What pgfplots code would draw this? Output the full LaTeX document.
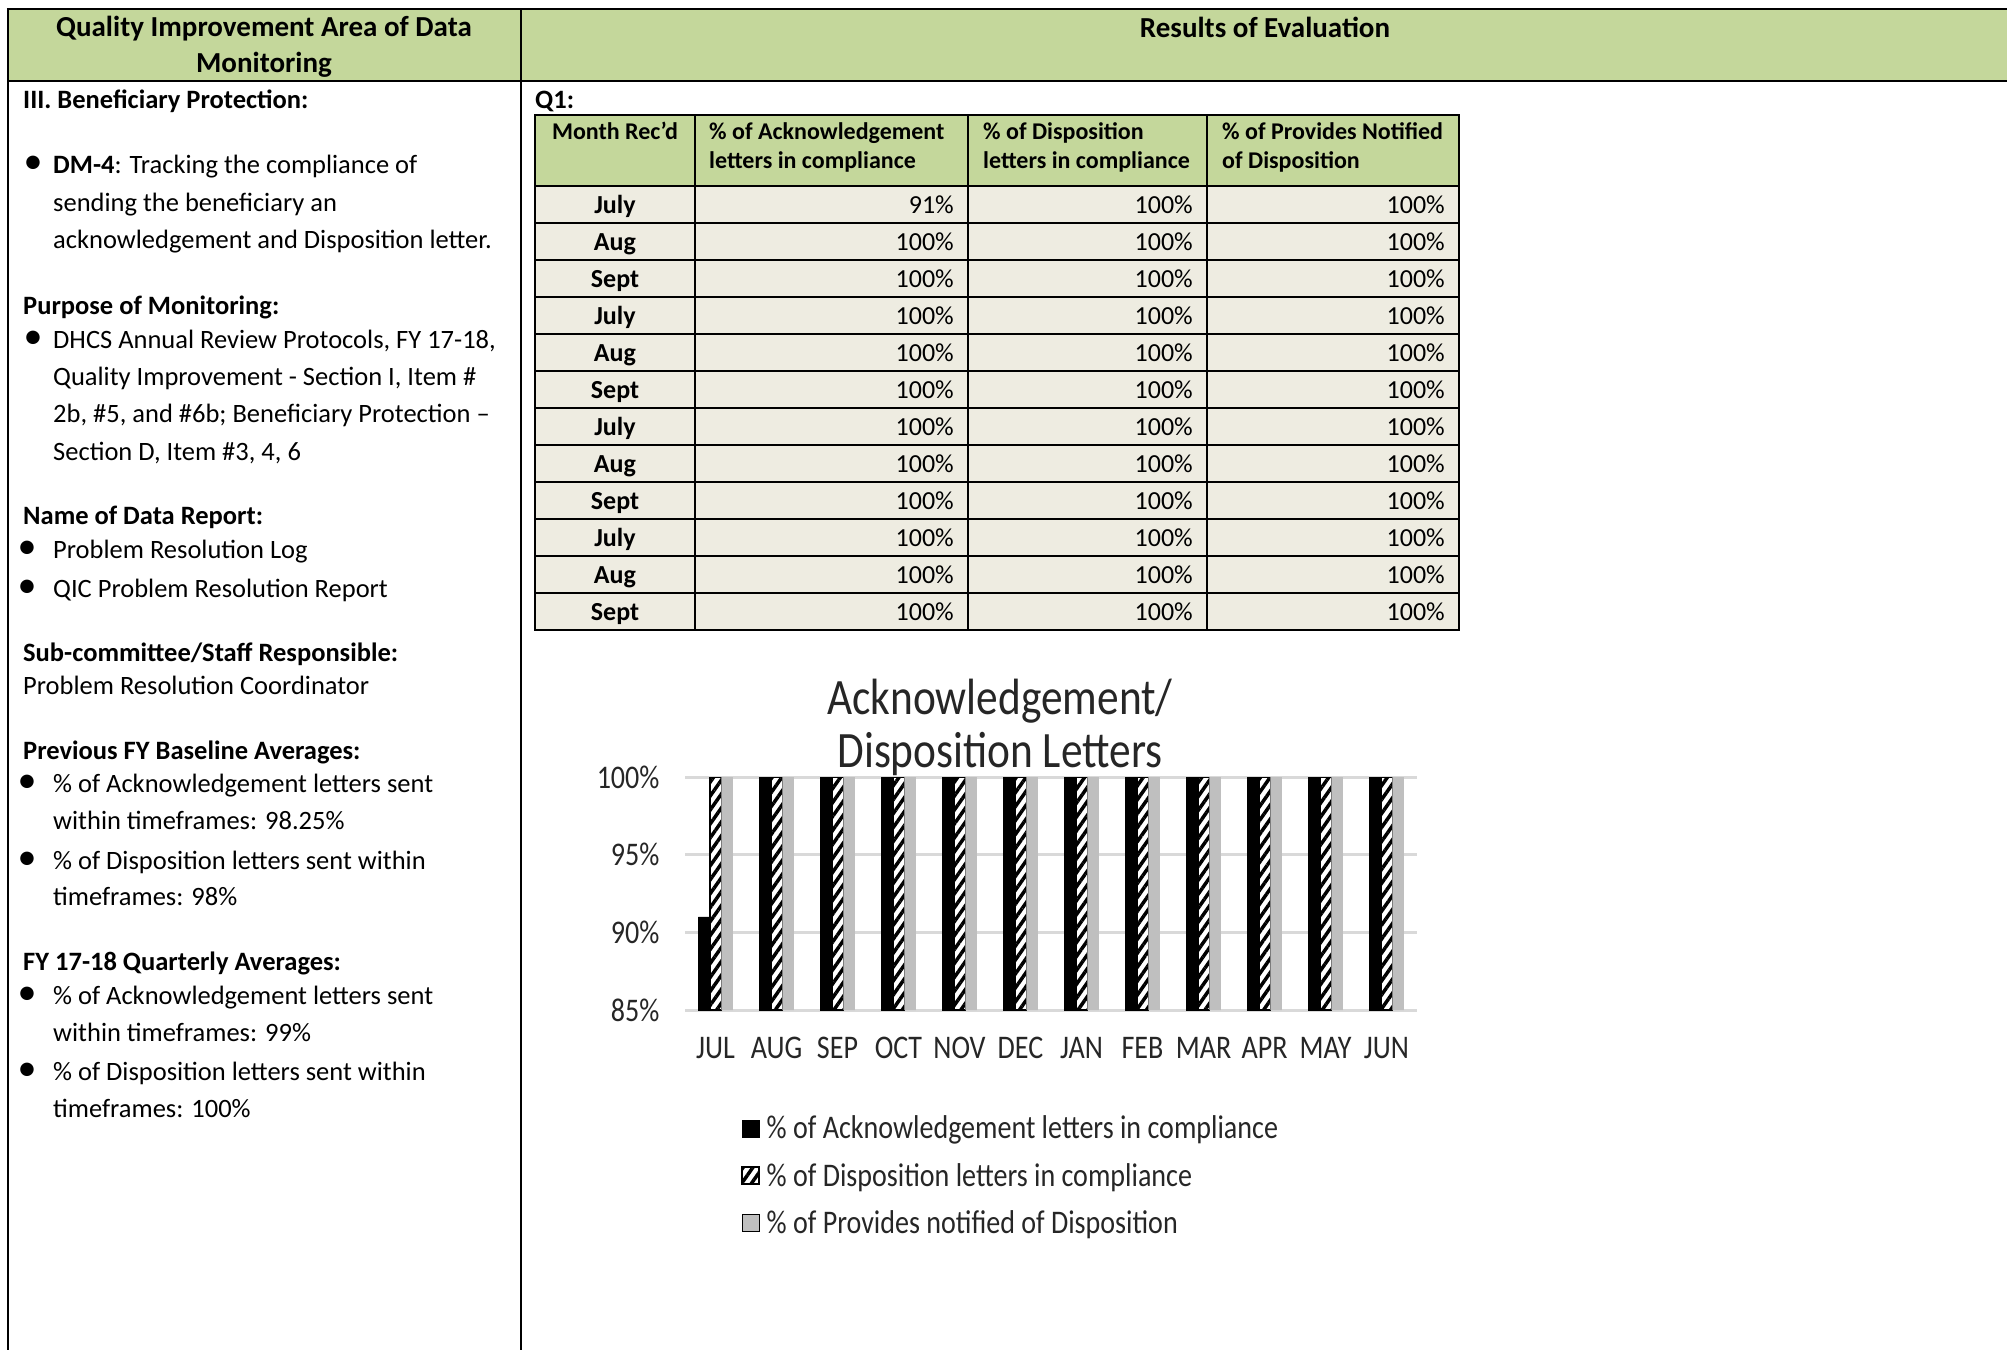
\documentclass[border=0pt]{standalone}
\usepackage{fontspec}
\setmainfont{Carlito}
\newfontfamily\chartfont[FakeStretch=0.85]{Carlito}
\usepackage{pgfplots}
\pgfplotsset{compat=1.18}
\usetikzlibrary{patterns.meta}
\definecolor{hdrgreen}{HTML}{C4D79B}
\definecolor{rowtan}{HTML}{EEECE1}
\definecolor{gridgray}{HTML}{D9D9D9}
\definecolor{bargray}{HTML}{BFBFBF}
\definecolor{charttext}{HTML}{262626}
\newcommand{\fs}[1]{\fontsize{#1}{#1}\selectfont}
\newcommand{\Lt}[3]{\node[anchor=base west, inner sep=0pt, font=\fs{26.5}] at (#1,#2) {#3};}
\newcommand{\Bu}[2]{\node[anchor=base, inner sep=0pt, font=\fs{38}] at (#1,#2) {•};}
\begin{document}
\begin{tikzpicture}
\begin{scope}[x=1pt,y=-1pt]
\path[use as bounding box] (0,0) rectangle (2007,1350);
% page header
\fill[hdrgreen] (8,9) rectangle (2007,81);
\draw[line width=2.5pt] (6.75,9) -- (2007,9);
\draw[line width=2.5pt] (8,81) -- (2007,81);
\draw[line width=2.5pt] (8,9) -- (8,1350);
\draw[line width=2.5pt] (521,9) -- (521,1350);
\node[font=\bfseries\fontsize{29}{36}\selectfont, align=center, inner sep=0pt] at (264,47) {Quality Improvement Area of Data\\Monitoring};
\node[anchor=base, font=\bfseries\fs{29}, inner sep=0pt] at (1265,37) {Results of Evaluation};
% left column
\Lt{23}{108}{\textbf{III. Beneficiary Protection:}}
\Bu{33}{173}\Lt{53}{173}{\textbf{DM-4}: Tracking the compliance of}
\Lt{53}{211}{sending the beneficiary an}
\Lt{53}{248}{acknowledgement and Disposition letter.}
\Lt{23}{314}{\textbf{Purpose of Monitoring:}}
\Bu{33}{348}\Lt{53}{348}{DHCS Annual Review Protocols, FY 17-18,}
\Lt{53}{385}{Quality Improvement - Section I, Item \#}
\Lt{53}{422}{2b, \#5, and \#6b; Beneficiary Protection –}
\Lt{53}{460}{Section D, Item \#3, 4, 6}
\Lt{23}{524}{\textbf{Name of Data Report:}}
\Bu{27}{558}\Lt{53}{558}{Problem Resolution Log}
\Bu{27}{597}\Lt{53}{597}{QIC Problem Resolution Report}
\Lt{23}{661}{\textbf{Sub-committee/Staff Responsible:}}
\Lt{23}{694}{Problem Resolution Coordinator}
\Lt{23}{759}{\textbf{Previous FY Baseline Averages:}}
\Bu{27}{792}\Lt{53}{792}{\% of Acknowledgement letters sent}
\Lt{53}{829}{within timeframes: 98.25\%}
\Bu{27}{869}\Lt{53}{869}{\% of Disposition letters sent within}
\Lt{53}{905}{timeframes: 98\%}
\Lt{23}{970}{\textbf{FY 17-18 Quarterly Averages:}}
\Bu{27}{1004}\Lt{53}{1004}{\% of Acknowledgement letters sent}
\Lt{53}{1041}{within timeframes: 99\%}
\Bu{27}{1080}\Lt{53}{1080}{\% of Disposition letters sent within}
\Lt{53}{1117}{timeframes: 100\%}
% right column table
\Lt{535}{108}{\textbf{Q1:}}
\fill[hdrgreen] (535,115) rectangle (1459,186);
\fill[rowtan] (535,186) rectangle (1459,630);
\foreach \yy in {115,186,223,260,297,334,371,408,445,482,519,556,593,630}
  \draw[line width=2pt] (534,\yy) -- (1460,\yy);
\foreach \xx in {535,695,968,1207,1459}
  \draw[line width=2pt] (\xx,115) -- (\xx,630);
\node[anchor=base, font=\bfseries\fs{24}, inner sep=0pt] at (615,139) {Month Rec’d};
\node[anchor=base west, font=\bfseries\fs{24}, inner sep=0pt] at (709,139) {\% of Acknowledgement};
\node[anchor=base west, font=\bfseries\fs{24}, inner sep=0pt] at (709,168) {letters in compliance};
\node[anchor=base west, font=\bfseries\fs{24}, inner sep=0pt] at (983,139) {\% of Disposition};
\node[anchor=base west, font=\bfseries\fs{24}, inner sep=0pt] at (983,168) {letters in compliance};
\node[anchor=base west, font=\bfseries\fs{24}, inner sep=0pt] at (1222,139) {\% of Provides Notified};
\node[anchor=base west, font=\bfseries\fs{24}, inner sep=0pt] at (1222,168) {of Disposition};
\foreach \m/\a/\b/\c [count=\i from 0] in {July/91/100/100,Aug/100/100/100,Sept/100/100/100,July/100/100/100,Aug/100/100/100,Sept/100/100/100,July/100/100/100,Aug/100/100/100,Sept/100/100/100,July/100/100/100,Aug/100/100/100,Sept/100/100/100}{
  \pgfmathsetmacro\yb{186+37*\i+27.5}
  \node[anchor=base, font=\bfseries\fs{26}, inner sep=0pt] at (615,\yb) {\m};
  \node[anchor=base east, font=\fs{26}, inner sep=0pt] at (954,\yb) {\a\%};
  \node[anchor=base east, font=\fs{26}, inner sep=0pt] at (1193,\yb) {\b\%};
  \node[anchor=base east, font=\fs{26}, inner sep=0pt] at (1445,\yb) {\c\%};
}
% chart title
\node[anchor=base, font=\chartfont\fs{51}, text=charttext, inner sep=0pt] at (1000,714) {Acknowledgement/};
\node[anchor=base, font=\chartfont\fs{51}, text=charttext, inner sep=0pt] at (1000,767) {Disposition Letters};
\end{scope}
\begin{axis}[
  at={(685pt,-1010pt)}, anchor=south west,
  scale only axis, width=732pt, height=233pt,
  xmin=-0.5, xmax=11.5, ymin=85, ymax=100,
  ybar=0pt, bar width=11.5pt,
  xtick=data,
  xticklabels={JUL,AUG,SEP,OCT,NOV,DEC,JAN,FEB,MAR,APR,MAY,JUN},
  ytick={85,90,95,100},
  /pgf/number format/assume math mode=true,
  yticklabel={\pgfmathprintnumber{\tick}\%},
  ymajorgrids, grid style={gridgray, line width=3pt},
  axis line style={draw=none},
  major tick length=0pt,
  tick label style={font=\chartfont\fs{33}, text=charttext},
  xticklabel style={yshift=-24pt},
  yticklabel style={xshift=-22pt},
  legend style={at={(0.0765,-0.45)}, anchor=north west, draw=none, fill=none,
    inner sep=0pt, row sep=21pt, font=\chartfont\fs{33}, text=charttext,
    nodes={inner sep=1pt},
    /tikz/every odd column/.append style={column sep=6pt}},
  legend cell align=left,
  legend image code/.code={\draw[#1] (0pt,-8.5pt) rectangle (17pt,8.5pt);},
]
\addplot[fill=black, draw=black] coordinates {(0,91) (1,100) (2,100) (3,100) (4,100) (5,100) (6,100) (7,100) (8,100) (9,100) (10,100) (11,100)};
\addplot[fill=white, draw=black, line width=1.5pt, postaction={pattern={Lines[angle=55,distance=8pt,line width=3.5pt]}}] coordinates {(0,100) (1,100) (2,100) (3,100) (4,100) (5,100) (6,100) (7,100) (8,100) (9,100) (10,100) (11,100)};
\addplot[fill=bargray, draw=none] coordinates {(0,100) (1,100) (2,100) (3,100) (4,100) (5,100) (6,100) (7,100) (8,100) (9,100) (10,100) (11,100)};
\legend{\% of Acknowledgement letters in compliance, \% of Disposition letters in compliance, \% of Provides notified of Disposition}
\end{axis}
\end{tikzpicture}
\end{document}
